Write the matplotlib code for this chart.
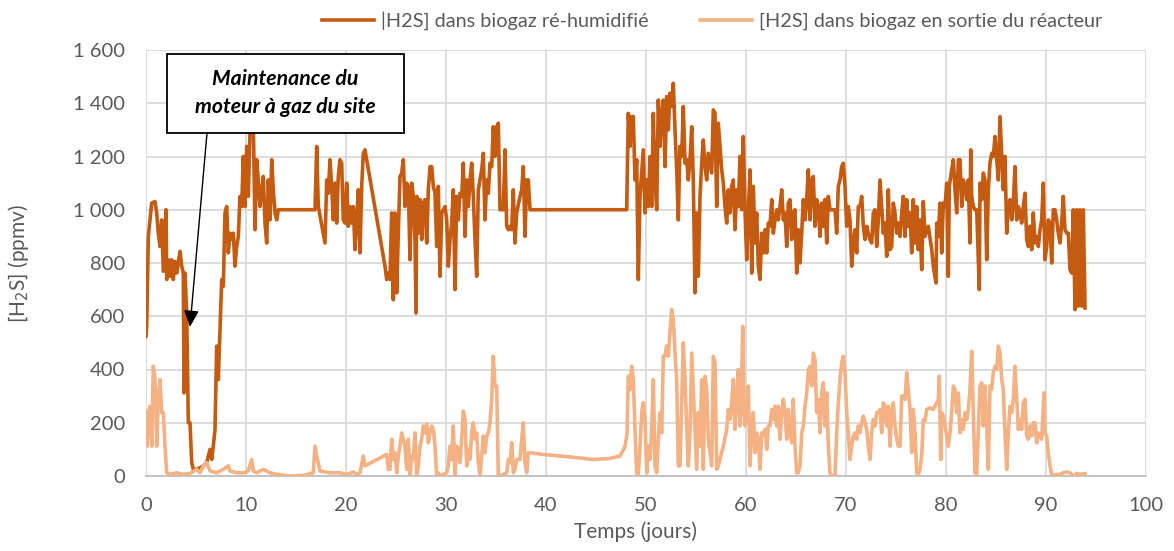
import matplotlib
matplotlib.use("Agg")
import matplotlib.pyplot as plt
from matplotlib.patches import Rectangle
from matplotlib.ticker import FuncFormatter, MultipleLocator

# [H2S] dans biogaz ré-humidifié
dark_days = [0.0, 0.07, 0.23, 0.57, 0.9, 1.07, 1.23, 1.4, 1.57, 1.73, 2.0, 2.07, 2.23, 2.4, 2.57,
             2.73, 2.9, 3.07, 3.4, 3.57, 3.73, 3.8, 3.9, 4.07, 4.23, 4.4, 4.57, 4.73, 5.07, 5.4,
             5.73, 6.07, 6.4, 6.57, 6.73, 6.9, 7.07, 7.23, 7.4, 7.57, 7.73, 7.9, 8.07, 8.23, 8.4,
             8.57, 8.73, 8.9, 9.07, 9.23, 9.4, 9.57, 9.73, 9.9, 10.07, 10.23, 10.4, 10.57, 10.73,
             10.9, 11.07, 11.23, 11.4, 11.57, 11.73, 11.9, 12.07, 12.23, 12.4, 12.57, 12.73, 12.9,
             13.07, 13.23, 16.9, 17.07, 17.23, 17.9, 18.07, 18.23, 18.4, 18.57, 18.73, 18.9, 19.07,
             19.23, 19.4, 19.57, 19.73, 19.9, 20.07, 20.23, 20.4, 20.57, 20.73, 20.9, 21.07, 21.23,
             21.4, 21.57, 21.73, 21.9, 23.9, 24.07, 24.23, 24.4, 24.57, 24.73, 24.9, 25.07, 25.23,
             25.4, 25.57, 25.73, 25.9, 26.07, 26.23, 26.4, 26.57, 26.73, 26.9, 27.0, 27.07, 27.23,
             27.4, 27.57, 27.73, 27.9, 28.07, 28.23, 28.4, 28.57, 28.73, 28.9, 29.07, 29.23, 29.4,
             29.57, 29.73, 29.9, 30.07, 30.23, 30.4, 30.57, 30.73, 30.9, 31.07, 31.23, 31.4, 31.57,
             31.73, 31.9, 32.07, 32.23, 32.4, 32.57, 32.73, 32.9, 33.07, 33.23, 33.4, 33.57, 33.73,
             33.9, 34.07, 34.23, 34.4, 34.57, 34.73, 34.9, 35.07, 35.23, 35.4, 35.73, 35.9, 36.07,
             36.23, 36.4, 36.57, 36.73, 36.9, 37.07, 37.4, 37.57, 37.73, 37.9, 38.07, 38.23, 38.4,
             48.07, 48.23, 48.4, 48.57, 48.73, 48.9, 49.07, 49.23, 49.4, 49.57, 49.73, 49.9, 50.07,
             50.23, 50.4, 50.57, 50.73, 50.9, 51.07, 51.23, 51.4, 51.57, 51.73, 51.9, 52.07, 52.23,
             52.4, 52.57, 52.73, 52.9, 53.07, 53.23, 53.4, 53.57, 53.73, 53.9, 54.07, 54.23, 54.4,
             54.57, 54.73, 54.9, 55.07, 55.23, 55.4, 55.57, 55.73, 55.9, 56.07, 56.23, 56.57, 56.73,
             56.9, 57.07, 57.23, 57.4, 57.57, 57.73, 57.9, 58.07, 58.23, 58.4, 58.57, 58.73, 58.9,
             59.07, 59.23, 59.4, 59.57, 59.73, 59.9, 60.07, 60.23, 60.4, 60.57, 60.73, 60.9, 61.07,
             61.23, 61.4, 61.57, 61.73, 61.9, 62.07, 62.23, 62.4, 62.57, 62.73, 62.9, 63.07, 63.23,
             63.4, 63.57, 63.73, 63.9, 64.07, 64.23, 64.4, 64.57, 64.73, 64.9, 65.07, 65.23, 65.4,
             65.57, 65.73, 65.9, 66.07, 66.23, 66.4, 66.57, 66.73, 66.9, 67.07, 67.23, 67.4, 67.57,
             67.73, 67.9, 68.07, 68.23, 68.4, 68.73, 68.9, 69.07, 69.23, 69.4, 69.57, 69.73, 69.9,
             70.07, 70.23, 70.4, 70.57, 70.73, 70.9, 71.07, 71.23, 71.4, 71.57, 71.73, 71.9, 72.07,
             72.23, 72.4, 72.57, 72.73, 72.9, 73.07, 73.23, 73.4, 73.57, 73.73, 73.9, 74.07, 74.23,
             74.4, 74.57, 74.73, 74.9, 75.07, 75.23, 75.4, 75.57, 75.73, 75.9, 76.07, 76.23, 76.4,
             76.57, 76.73, 76.9, 77.07, 77.23, 77.4, 77.57, 77.73, 77.9, 78.07, 78.23, 78.57, 78.73,
             79.0, 79.07, 79.23, 79.4, 79.57, 79.73, 79.9, 80.07, 80.23, 80.33, 80.47, 80.73, 80.9,
             81.07, 81.23, 81.4, 81.57, 81.73, 81.9, 82.07, 82.23, 82.4, 82.47, 82.57, 82.73, 82.9,
             83.07, 83.33, 83.4, 83.57, 83.73, 83.9, 84.07, 84.23, 84.4, 84.57, 84.73, 84.9, 85.07,
             85.23, 85.4, 85.57, 85.73, 85.9, 86.07, 86.23, 86.4, 86.57, 86.73, 86.9, 87.07, 87.23,
             87.4, 87.57, 87.73, 87.9, 88.07, 88.23, 88.4, 88.57, 88.73, 88.9, 89.07, 89.23, 89.4,
             89.57, 89.73, 89.9, 90.07, 90.23, 90.4, 90.57, 90.73, 90.9, 91.07, 91.23, 91.4, 91.57,
             91.73, 91.9, 92.07, 92.23, 92.4, 92.57, 92.73, 92.9, 93.07, 93.23, 93.4, 93.57, 93.73,
             93.9]
dark_vals = [525, 562, 900, 1025, 1031, 988, 912, 862, 962, 769, 1000, 738, 812, 750, 812,
             738, 806, 762, 844, 788, 762, 312, 762, 612, 200, 200, 50, 25, 25, 31,
             38, 50, 100, 62, 112, 175, 488, 362, 550, 738, 712, 988, 1012, 838, 912,
             888, 912, 788, 862, 900, 1050, 1012, 1200, 1012, 1238, 1050, 1300, 1288, 1325,
             925, 1188, 1112, 1012, 1062, 1125, 950, 875, 1112, 962, 1188, 1075, 988,
             962, 1000, 1000, 1238, 1012, 875, 1112, 1062, 1188, 1088, 962, 1100, 950,
             1125, 1188, 1175, 962, 950, 1100, 938, 1012, 950, 1012, 850, 962, 1075,
             838, 1088, 1212, 1225, 788, 738, 762, 738, 988, 662, 988, 688, 912,
             1125, 1138, 1188, 1012, 1100, 1088, 812, 1100, 1050, 888, 612, 1050, 912,
             1038, 888, 1025, 1038, 875, 1075, 1162, 1162, 1088, 1062, 862, 1088, 750,
             988, 1000, 1012, 962, 788, 888, 950, 1075, 700, 1050, 962, 1062, 1050,
             1175, 900, 1112, 1012, 1112, 1175, 1050, 888, 750, 1075, 1112, 1150, 1212,
             962, 1112, 1062, 1175, 1162, 1312, 1200, 1312, 1325, 1000, 1000, 1225, 938,
             925, 938, 925, 1075, 875, 988, 1050, 1075, 1162, 900, 1112, 1112, 1000,
             1000, 1362, 1238, 1350, 1350, 1112, 1188, 738, 1050, 1138, 1225, 988, 1112,
             1012, 1200, 1012, 1362, 1112, 1000, 1412, 1238, 1362, 1412, 1162, 1425, 1300,
             1438, 1388, 1475, 1300, 1150, 962, 1238, 1200, 1388, 1175, 1188, 1112, 1188,
             1312, 1112, 688, 988, 750, 1050, 1175, 1262, 1162, 1112, 1212, 1138, 1375,
             1362, 1012, 1325, 1238, 1150, 1100, 1012, 950, 1075, 988, 1088, 1112, 925,
             1075, 1012, 1200, 1000, 1275, 1000, 812, 988, 1150, 762, 1088, 875, 988,
             788, 738, 912, 838, 925, 838, 950, 938, 1038, 912, 962, 1000, 962,
             1012, 1075, 962, 988, 862, 1025, 1038, 888, 988, 1000, 762, 925, 800,
             912, 1038, 962, 1038, 1150, 962, 1112, 1125, 938, 1038, 1012, 900, 1025,
             938, 1038, 875, 1050, 1000, 1000, 1000, 912, 1088, 1112, 1162, 1175, 1088,
             938, 1012, 962, 788, 875, 925, 838, 1012, 1012, 1050, 938, 888, 938,
             912, 888, 875, 988, 1000, 862, 962, 1112, 1012, 912, 950, 825, 1075,
             850, 862, 1025, 988, 912, 950, 900, 988, 1050, 900, 1038, 938, 988,
             838, 1038, 875, 1012, 850, 962, 775, 1031, 900, 925, 938, 850, 788,
             725, 950, 900, 1025, 838, 1025, 1012, 1100, 750, 1088, 1125, 1188, 1075,
             988, 1188, 1188, 1012, 1112, 1088, 1038, 1112, 875, 1225, 1050, 1012, 1000,
             1000, 700, 1100, 1038, 1138, 1112, 812, 1075, 1175, 1212, 1200, 1275, 1188,
             1112, 1350, 1212, 1075, 1200, 912, 1012, 1038, 962, 1025, 1162, 962, 1012,
             988, 950, 1012, 1062, 888, 862, 938, 850, 988, 875, 900, 862, 925,
             962, 1100, 812, 862, 962, 950, 800, 1000, 1000, 962, 912, 875, 950,
             1050, 925, 912, 912, 775, 762, 1000, 625, 1000, 638, 1000, 638, 1000,
             631]

# [H2S] dans biogaz en sortie du réacteur
light_days = [0.0, 0.13, 0.23, 0.4, 0.57, 0.73, 0.9, 1.0, 1.07, 1.23, 1.4, 1.57, 1.73, 1.9, 2.07,
              2.4, 3.07, 3.73, 4.4, 5.07, 5.4, 5.73, 6.07, 6.4, 7.07, 7.73, 8.23, 8.4, 9.07, 9.73,
              10.23, 10.57, 10.73, 11.07, 11.73, 12.4, 13.07, 14.4, 15.73, 16.73, 16.9, 17.07,
              17.4, 18.4, 19.4, 20.07, 20.73, 21.07, 21.4, 21.73, 21.9, 24.07, 24.23, 24.4, 24.57,
              24.73, 24.9, 25.07, 25.23, 25.4, 25.57, 25.73, 25.9, 26.07, 26.23, 26.4, 26.57,
              26.73, 26.9, 27.07, 27.23, 27.4, 27.57, 27.73, 27.9, 28.07, 28.23, 28.4, 28.57,
              28.73, 28.9, 29.07, 29.23, 29.4, 29.73, 30.07, 30.23, 30.4, 30.57, 30.73, 30.9,
              31.07, 31.23, 31.4, 31.57, 31.73, 31.9, 32.07, 32.23, 32.4, 32.57, 32.73, 32.9,
              33.07, 33.23, 33.4, 33.57, 33.73, 33.9, 34.07, 34.23, 34.4, 34.57, 34.73, 34.9,
              35.07, 35.23, 35.4, 35.73, 36.07, 36.23, 36.4, 36.57, 36.73, 36.9, 37.07, 37.4,
              37.57, 37.73, 37.9, 38.07, 38.23, 39.73, 41.4, 43.07, 44.73, 46.4, 47.4, 47.9,
              48.1, 48.23, 48.4, 48.57, 48.73, 48.9, 49.07, 49.23, 49.4, 49.57, 49.73, 49.9,
              50.07, 50.23, 50.4, 50.57, 50.73, 50.9, 51.07, 51.23, 51.4, 51.57, 51.73, 51.9,
              52.07, 52.23, 52.4, 52.57, 52.73, 52.9, 53.07, 53.23, 53.4, 53.57, 53.73, 53.9,
              54.07, 54.23, 54.4, 54.57, 54.73, 54.9, 55.07, 55.23, 55.4, 55.57, 55.73, 55.9,
              56.07, 56.23, 56.57, 56.73, 56.9, 57.07, 57.23, 57.73, 58.07, 58.23, 58.4, 58.57,
              58.73, 58.9, 59.07, 59.23, 59.4, 59.57, 59.67, 59.8, 59.9, 60.07, 60.23, 60.4,
              60.57, 60.73, 60.9, 61.07, 61.23, 61.4, 61.57, 61.73, 61.9, 62.07, 62.23, 62.4,
              62.57, 62.73, 62.9, 63.07, 63.23, 63.4, 63.57, 63.73, 63.9, 64.07, 64.23, 64.4,
              64.57, 64.73, 64.9, 65.07, 65.23, 65.4, 65.57, 65.73, 65.9, 66.07, 66.23, 66.4,
              66.57, 66.73, 66.9, 67.07, 67.23, 67.4, 67.57, 67.73, 67.9, 68.07, 68.23, 68.4,
              68.57, 68.9, 69.07, 69.23, 69.4, 69.57, 69.73, 69.9, 70.07, 70.23, 70.4, 70.57,
              70.73, 70.9, 71.07, 71.23, 71.4, 71.57, 71.73, 71.9, 72.07, 72.23, 72.4, 72.57,
              72.73, 72.9, 73.07, 73.23, 73.4, 73.57, 73.73, 73.9, 74.07, 74.23, 74.4, 74.57,
              74.73, 74.9, 75.07, 75.23, 75.4, 75.57, 75.73, 75.9, 76.07, 76.23, 76.4, 76.57,
              76.73, 76.9, 77.07, 77.23, 77.4, 77.57, 77.73, 77.9, 78.07, 78.4, 78.73, 79.07,
              79.23, 79.33, 79.47, 79.57, 79.73, 79.9, 80.07, 80.23, 80.4, 80.57, 80.73, 80.9,
              81.07, 81.23, 81.4, 81.57, 81.73, 81.9, 82.07, 82.23, 82.4, 82.57, 82.73, 82.9,
              83.07, 83.23, 83.4, 83.57, 83.73, 83.9, 84.07, 84.23, 84.4, 84.57, 84.73, 84.9,
              85.07, 85.23, 85.4, 85.57, 85.73, 85.9, 86.07, 86.23, 86.4, 86.57, 86.73, 86.9,
              87.07, 87.23, 87.4, 87.57, 87.73, 87.9, 88.07, 88.23, 88.4, 88.57, 88.73, 88.9,
              89.07, 89.23, 89.4, 89.57, 89.8, 89.9, 90.07, 90.23, 90.4, 90.57, 90.73, 91.07,
              91.4, 91.73, 92.07, 92.4, 92.73, 93.07, 93.4, 93.9]
light_vals = [238, 112, 238, 262, 112, 412, 362, 238, 112, 300, 362, 238, 238, 112, 12,
              6, 12, 6, 10, 25, 12, 38, 50, 19, 12, 25, 38, 19, 12, 12,
              19, 62, 19, 12, 25, 12, 6, 0, 2, 12, 112, 75,
              19, 12, 12, 6, 15, 6, 12, 75, 38, 81, 25, 25, 138,
              62, 88, 12, 75, 112, 162, 138, 112, 25, 138, 0, 75,
              62, 162, 0, 38, 112, 138, 188, 162, 194, 125, 162, 188,
              175, 112, 0, 12, 0, 6, 12, 38, 112, 62, 188, 0,
              112, 100, 50, 138, 244, 212, 38, 100, 62, 162, 200, 138,
              162, 50, 0, 75, 150, 88, 150, 162, 200, 288, 450, 338,
              338, 0, 0, 6, 12, 62, 50, 125, 12, 25, 62, 62,
              138, 200, 50, 12, 88, 81, 75, 69, 62, 66, 75, 110,
              160, 375, 325, 412, 362, 175, 12, 6, 112, 238, 275, 212,
              12, 112, 62, 175, 362, 38, 12, 138, 238, 162, 450, 450,
              488, 450, 538, 625, 588, 462, 362, 38, 38, 275, 500, 362,
              188, 38, 162, 462, 325, 175, 25, 238, 112, 362, 25, 375,
              325, 138, 38, 450, 425, 25, 38, 112, 175, 250, 212, 275,
              362, 175, 300, 400, 188, 362, 562, 238, 188, 238, 338, 38,
              175, 238, 88, 162, 138, 25, 162, 150, 175, 100, 188, 188,
              250, 212, 262, 188, 262, 138, 238, 288, 238, 138, 250, 175,
              125, 288, 112, 12, 12, 38, 162, 188, 262, 312, 400, 412,
              338, 462, 438, 238, 288, 162, 312, 350, 188, 312, 112, 12,
              0, 0, 162, 275, 362, 425, 450, 388, 238, 162, 62, 112,
              150, 162, 138, 188, 162, 200, 225, 200, 175, 112, 62, 162,
              212, 188, 238, 238, 250, 162, 275, 262, 188, 262, 112, 238,
              275, 188, 138, 112, 112, 300, 300, 288, 388, 325, 250, 88,
              250, 162, 12, 6, 25, 75, 212, 206, 250, 256, 250, 275,
              288, 375, 62, 238, 225, 188, 150, 112, 162, 238, 338, 325,
              238, 312, 162, 212, 175, 238, 212, 250, 325, 469, 238, 12,
              6, 162, 338, 350, 188, 338, 188, 25, 338, 325, 388, 412,
              400, 488, 462, 362, 325, 162, 25, 162, 262, 238, 288, 412,
              288, 175, 212, 175, 275, 288, 150, 138, 188, 150, 200, 200,
              125, 162, 150, 138, 312, 162, 150, 88, 38, 6, 0, 6,
              6, 12, 15, 12, 0, 10, 6, 9]

y_ticks = [0, 200, 400, 600, 800, 1000, 1200, 1400, 1600]

dark_color = "#C55A11"
light_color = "#F4B183"
text_grey = "#595959"

plt.rcParams['font.family'] = ['Lato', 'DejaVu Sans']

fig = plt.figure(figsize=(11.74, 5.51), dpi=100)
ax = fig.add_axes([146 / 1174, 75 / 551, 1000 / 1174, 426 / 551])

ax.plot(dark_days, dark_vals, color=dark_color, lw=2.6, solid_joinstyle='round',
        label="|H2S] dans biogaz ré-humidifié", zorder=3)
ax.plot(light_days, light_vals, color=light_color, lw=2.6, solid_joinstyle='round',
        label="[H2S] dans biogaz en sortie du réacteur", zorder=3)

ax.set_xlim(0, 100)
ax.set_ylim(0, 1600)
ax.xaxis.set_major_locator(MultipleLocator(10))
ax.set_yticks(y_ticks)
ax.yaxis.set_major_formatter(FuncFormatter(lambda v, p: f"{int(v):,}".replace(",", " ")))

ax.grid(True, color="#d9d9d9", lw=1.3)
ax.set_axisbelow(True)
for s in ["top", "right", "left"]:
    ax.spines[s].set_visible(False)
ax.spines["bottom"].set_color("#bfbfbf")
ax.spines["bottom"].set_linewidth(1.3)
ax.tick_params(length=0, labelsize=14.5, colors=text_grey)
ax.tick_params(axis="x", pad=15)
ax.tick_params(axis="y", pad=15)

ax.set_xlabel("Temps (jours)", fontsize=15, color=text_grey)
ax.set_ylabel("[H$_2$S] (ppmv)", fontsize=15, color=text_grey)
ax.xaxis.set_label_coords((636 - 146) / 1000, -(521 - 476) / 426)
ax.yaxis.set_label_coords(-(146 - 31) / 1000, 0.5)

fig.legend(loc="center", bbox_to_anchor=(712 / 1174, 1 - 21 / 551), ncol=2, frameon=False,
           fontsize=14.3, labelcolor=text_grey, handlelength=2.6, columnspacing=2.6,
           handletextpad=0.35)

# Encadré + flèche
fig.patches.append(Rectangle((167 / 1174, 1 - 133 / 551), 237 / 1174, 79 / 551,
                             transform=fig.transFigure, facecolor="white",
                             edgecolor="black", lw=1.3, zorder=5))
fig.text(285 / 1174, 1 - 93 / 551, "Maintenance du\nmoteur à gaz du site",
         ha="center", va="center", fontsize=15.3, fontweight="bold", fontstyle="italic",
         linespacing=1.45, zorder=6)
ax.annotate("", xy=(4.4, 560), xycoords="data",
            xytext=(207 / 1174, 1 - 133 / 551), textcoords="figure fraction",
            arrowprops=dict(arrowstyle="-|>,head_length=1.0,head_width=0.45",
                            color="black", lw=1, shrinkA=0, shrinkB=0), zorder=6)

fig.savefig("out.png", dpi=100)
